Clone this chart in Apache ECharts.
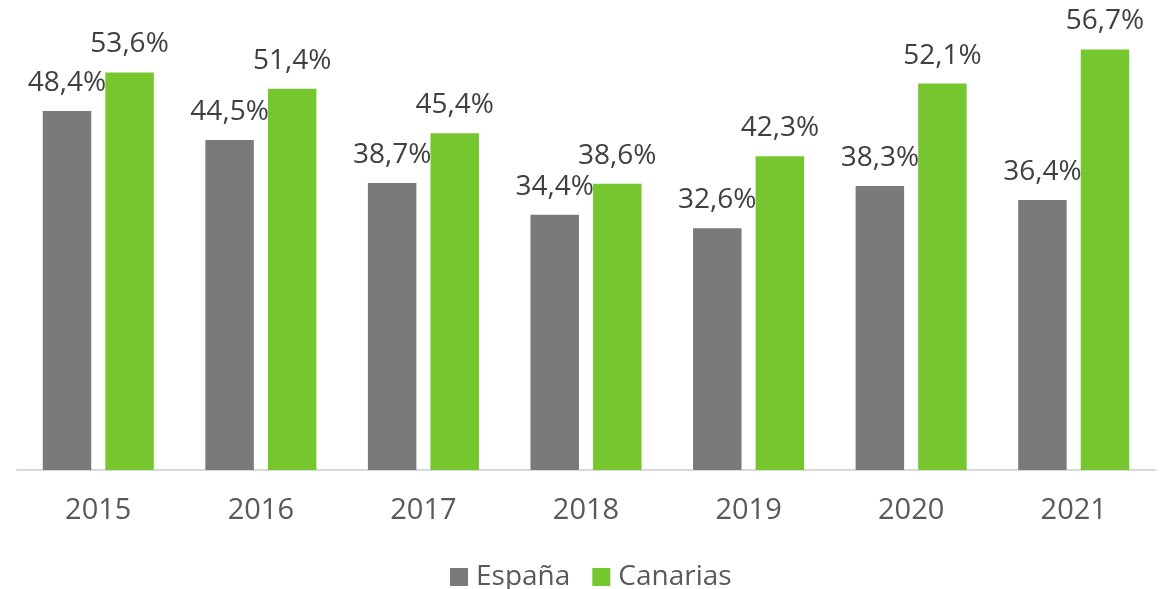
<!DOCTYPE html>
<html>
<head>
<meta charset="utf-8">
<script src="https://cdn.jsdelivr.net/npm/echarts@6/dist/echarts.min.js"></script>
<style>
  html, body { margin: 0; padding: 0; background: #fff; }
  #chart { width: 1164px; height: 589px; }
</style>
</head>
<body>
<div id="chart"></div>
<script>
const years = ['2015', '2016', '2017', '2018', '2019', '2020', '2021']
const espana = [48.4, 44.5, 38.7, 34.4, 32.6, 38.3, 36.4]
const canarias = [53.6, 51.4, 45.4, 38.6, 42.3, 52.1, 56.7]

const fontFamily = '"Open Sans", "Noto Sans", sans-serif'

// labels use a comma as decimal separator
function pct(params) {
  return params.value.toFixed(1).replace('.', ',') + '%'
}

const chart = echarts.init(document.getElementById('chart'))

const barLabel = {
  show: true,
  position: 'top',
  distance: 14,
  formatter: pct,
  color: '#404040',
  fontSize: 28,
  fontFamily: fontFamily
}

chart.setOption({
  animation: false,
  textStyle: { fontFamily: fontFamily },
  legend: {
    data: ['España', 'Canarias'],
    left: 445,
    top: 558,
    icon: 'rect',
    itemWidth: 18,
    itemHeight: 18,
    itemGap: 22,
    textStyle: {
      color: '#595959',
      fontSize: 28,
      fontFamily: fontFamily,
      padding: [0, 0, 0, 3]
    }
  },
  grid: {
    left: 17,
    right: 9,
    top: 25,
    bottom: 119,
    containLabel: false
  },
  xAxis: {
    type: 'category',
    data: years,
    axisLine: { lineStyle: { color: '#d9d9d9', width: 2 } },
    axisTick: { show: false },
    axisLabel: {
      color: '#595959',
      fontSize: 29,
      fontFamily: fontFamily,
      margin: 26
    }
  },
  yAxis: {
    type: 'value',
    min: 0,
    max: 60,
    show: false,
    splitLine: { show: false }
  },
  series: [{
    name: 'España',
    type: 'bar',
    data: espana,
    barWidth: 48.5,
    barGap: '29%',
    itemStyle: { color: '#7a7a7a' },
    label: barLabel
  }, {
    name: 'Canarias',
    type: 'bar',
    data: canarias,
    barWidth: 48.5,
    itemStyle: { color: '#76c72f' },
    label: barLabel
  }]
})
</script>
</body>
</html>
